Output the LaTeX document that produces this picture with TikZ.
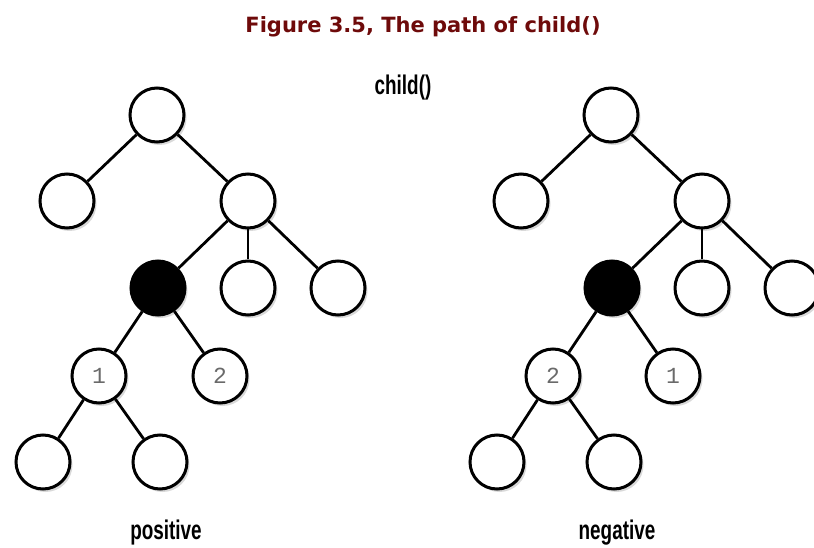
\documentclass[tikz,border=0pt]{standalone}
\usepackage{fontspec}
\setmainfont{DejaVu Sans}
\newfontfamily\labfont{Liberation Sans}
\newfontfamily\numfont{Liberation Mono}
\usetikzlibrary{shadows}
\definecolor{titlered}{HTML}{6E0A0A}
\definecolor{numgray}{HTML}{6A6A6A}
\begin{document}
\begin{tikzpicture}[x=1pt,y=-1pt,
  tn/.style={circle,draw=black,line width=3pt,minimum size=54pt,inner sep=0pt,fill=white,
     drop shadow={shadow xshift=2.5pt,shadow yshift=-3pt,fill=black!25,opacity=0.6}},
  blk/.style={tn,fill=black},
  edge/.style={line width=2.8pt,black},
  num/.style={font=\numfont\fontsize{23}{23}\selectfont,text=numgray},
  lab/.style={font=\labfont\bfseries\fontsize{27}{27}\selectfont}]
\useasboundingbox (0,0) rectangle (814,548);
\begin{scope}
\clip (0,0) rectangle (814,548);
\node[font=\bfseries\fontsize{21}{21}\selectfont,text=titlered] (title) at (423,27) {Figure 3.5, The path of child()};
\node[lab] (childlab) at (403,88) {\scalebox{0.7}[1]{child()}};
% left tree
\node[tn] (Lr) at (157,115) {};
\node[tn] (La) at (67,201) {};
\node[tn] (Lb) at (248,201) {};
\node[blk] (Lk) at (158,288) {};
\node[tn] (Lm) at (248,288) {};
\node[tn] (Ln) at (338,288) {};
\node[tn,num] (L1) at (99,376) {1};
\node[tn,num] (L2) at (220,376) {2};
\node[tn] (Lx) at (43,462) {};
\node[tn] (Ly) at (160,462) {};
\node[lab] (pos) at (166,533) {\scalebox{0.7}[1]{positive}};
% right tree
\node[tn] (Rr) at (611,115) {};
\node[tn] (Ra) at (521,201) {};
\node[tn] (Rb) at (702,201) {};
\node[blk] (Rk) at (612,288) {};
\node[tn] (Rm) at (702,288) {};
\node[tn] (Rn) at (792,288) {};
\node[tn,num] (R2) at (553,376) {2};
\node[tn,num] (R1) at (673,376) {1};
\node[tn] (Rx) at (497,462) {};
\node[tn] (Ry) at (614,462) {};
\node[lab] (neg) at (617,533) {\scalebox{0.7}[1]{negative}};
\foreach \a/\b in {Lr/La,Lr/Lb,Lb/Lk,Lb/Lm,Lb/Ln,Lk/L1,Lk/L2,L1/Lx,L1/Ly,
                   Rr/Ra,Rr/Rb,Rb/Rk,Rb/Rm,Rb/Rn,Rk/R2,Rk/R1,R2/Rx,R2/Ry}
  \draw[edge] (\a) -- (\b);
\end{scope}
\end{tikzpicture}
\end{document}
